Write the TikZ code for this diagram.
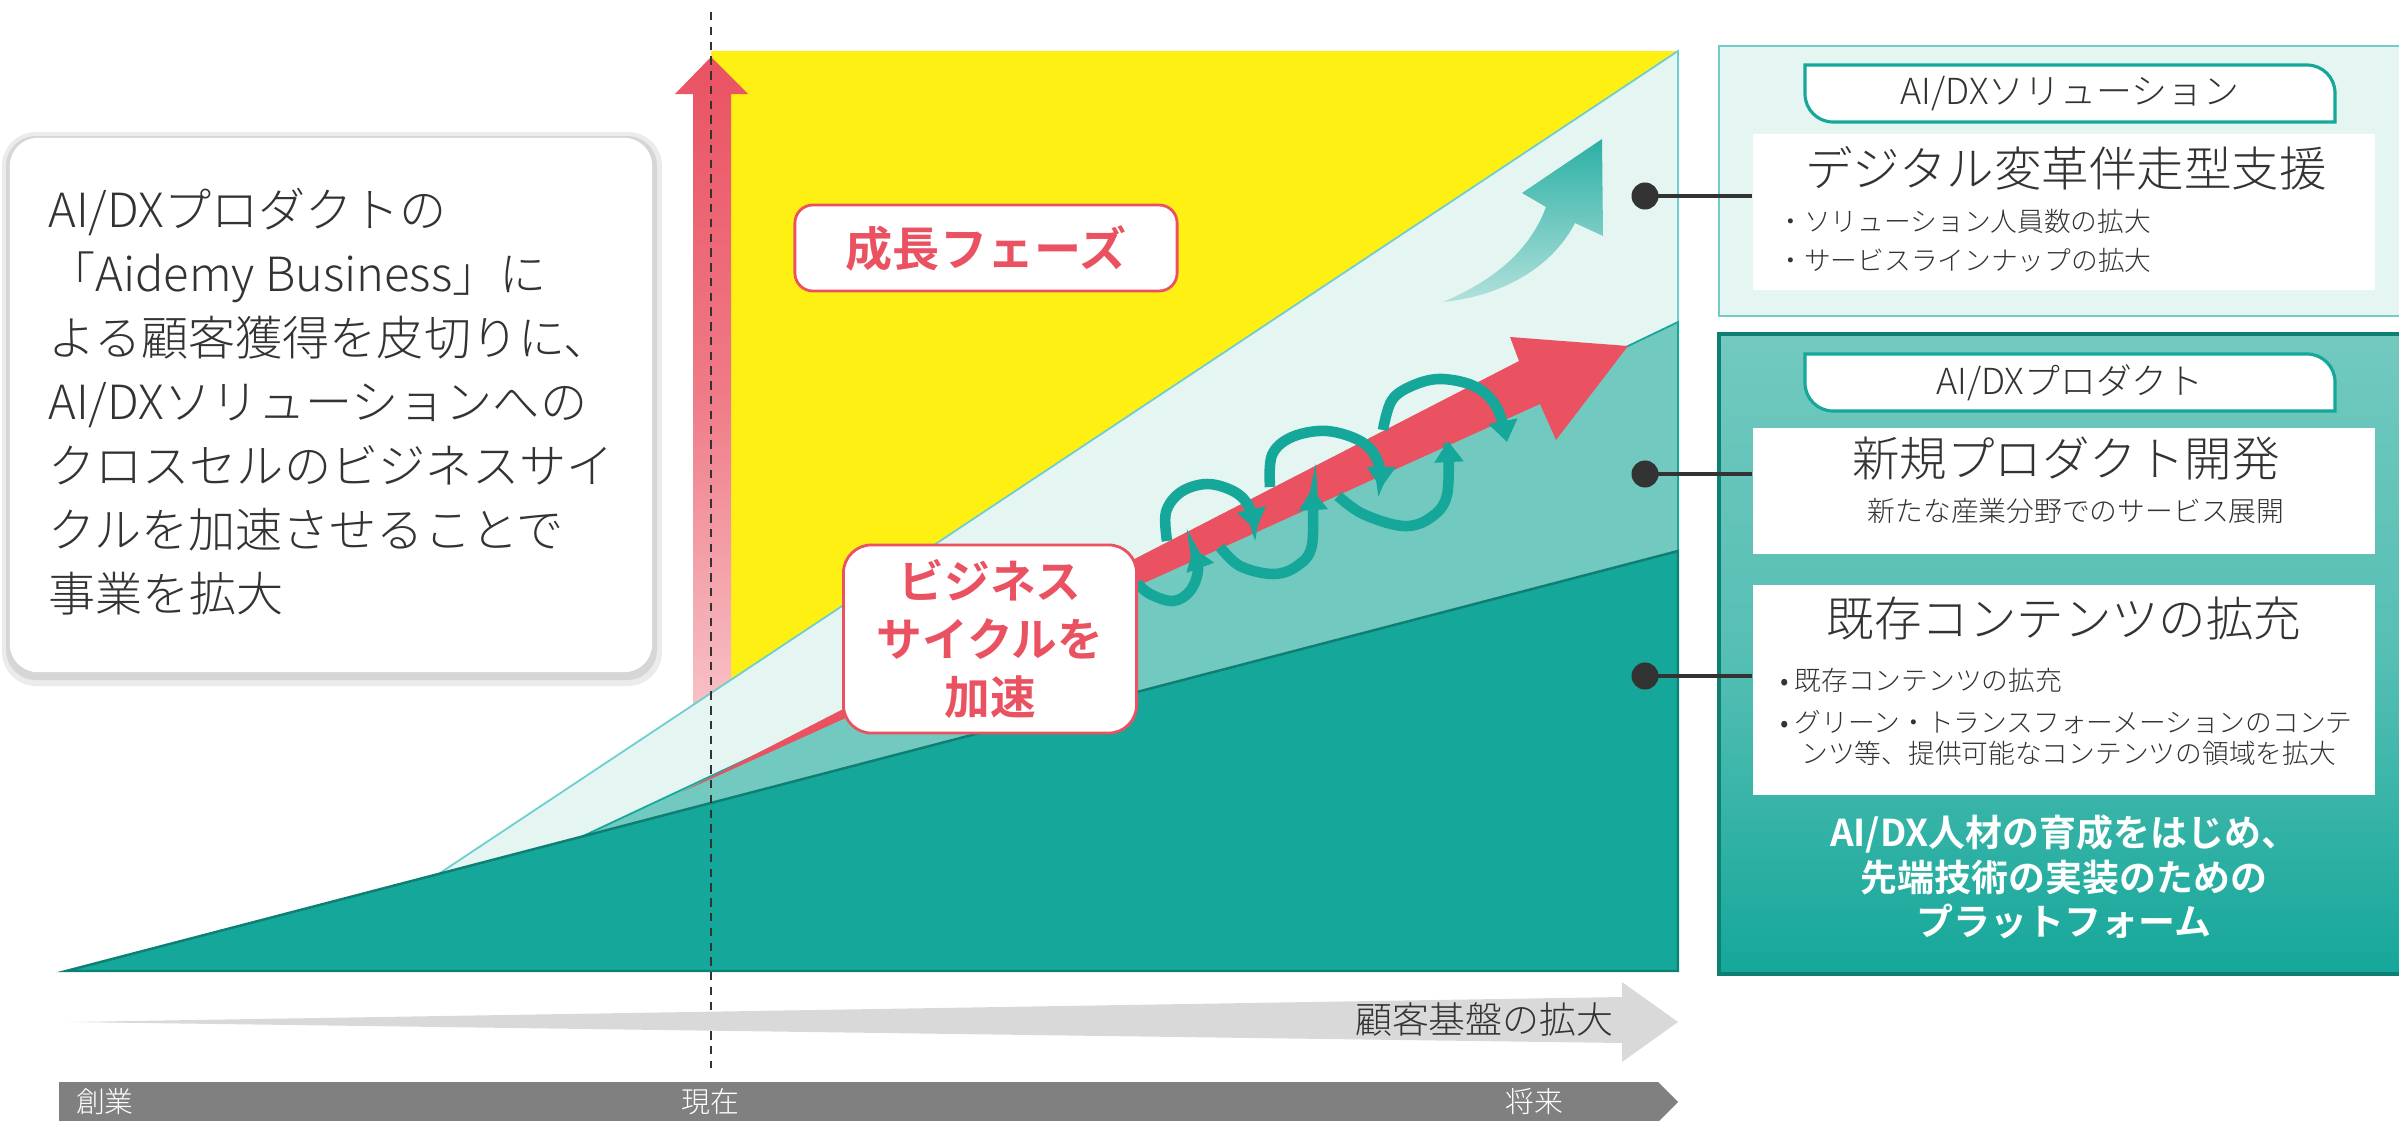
\documentclass[tikz,border=0pt]{standalone}
\usepackage{fontspec}
\IfFontExistsTF{Noto Sans CJK JP Light}
  {\setmainfont{Noto Sans CJK JP Light}[BoldFont={Noto Sans CJK JP Bold}]}
  {\setmainfont{Noto Sans CJK JP}}
\usepackage{xcolor}
\usetikzlibrary{arrows.meta,positioning,calc,shapes.geometric}
\definecolor{Ink}{HTML}{333333}
\definecolor{Rose}{HTML}{EA5262}
\definecolor{Blush}{HTML}{F8C4C9}
\definecolor{Lemon}{HTML}{FFF014}
\definecolor{Mist}{HTML}{E5F5F2}
\definecolor{Aqua}{HTML}{72C9BF}
\definecolor{Teal}{HTML}{15A79A}
\definecolor{DeepTeal}{HTML}{0E7F73}
\definecolor{Sky}{HTML}{6ECDD0}
\definecolor{Fog}{HTML}{D9D9D9}
\definecolor{Slate}{HTML}{808080}
\newcommand{\tabframe}[4]{
  \begin{scope}[shift={(#2,#3)}]
    \draw[fill=white, draw=Teal, line width=0.9pt] (0,0) -- (502,0) arc[start angle=-90, end angle=0, radius=28] -- (530,57) -- (28,57) arc[start angle=90, end angle=180, radius=28] -- cycle;
    \node[Ink, font=\fontsize{10.2}{12}\selectfont] (#1) at (265,29) {#4};
  \end{scope}
}

\begin{document}
\begin{tikzpicture}[x=0.01cm, y=-0.01cm,
    pin/.style={circle, fill=Ink, inner sep=0pt, minimum size=0.27cm},
    wire/.style={Ink, line width=1.1pt},
    sheet/.style={fill=white, inner sep=0pt, minimum width=6.22cm},
    badge/.style={draw=Rose, line width=0.8pt, fill=white, text=Rose, font=\bfseries\fontsize{13.4}{16.5}\selectfont, align=center, inner sep=0pt},
    coil/.style={Teal, line width=3pt, -{Triangle[width=8pt,length=6pt]}}]
  \useasboundingbox (0,0) rectangle (2399,1121);
  \clip (0,0) rectangle (2399,1121);

  % growth phase
  \fill[Lemon] (711,51) -- (1678,51) -- (711,693) -- cycle;
  \shade[top color=Rose, bottom color=Blush, middle color=Rose!65!Blush] (693,720) -- (693,94) -- (675,94) -- (711,57) -- (748,94) -- (731,94) -- (731,720) -- cycle;

  % layers of the chart
  \fill[Mist] (440,873) -- (1678,51) -- (1678,971) -- (440,971) -- cycle;
  \draw[Sky, line width=0.5pt] (440,873) -- (1678,51) -- (1678,322);
  \fill[Aqua] (581,837) -- (1628,346) -- (1678,322) -- (1678,971) -- (581,971) -- cycle;
  \draw[Teal, line width=0.5pt] (581,837) -- (1628,346) -- (1678,322) -- (1678,551);
  \fill[Teal] (66,971) -- (1678,551) -- (1678,971) -- cycle;
  \draw[DeepTeal, line width=0.7pt] (66,971) -- (1678,551) -- (1678,971) -- cycle;

  % rising arrow
  \shade[top color=Teal!90, middle color=Aqua!85, bottom color=Mist!55!Aqua] (1443,302) .. controls (1495,280) and (1530,250) .. (1546,207) -- (1522,193) -- (1602,139) -- (1603,236) -- (1575,223) .. controls (1555,262) and (1510,295) .. (1443,302) -- cycle;

  % business cycle
  \fill[Rose] (682,792) -- (1519,361) -- (1510,337) -- (1628,346) -- (1556,440) -- (1540,404) -- cycle;
  \draw[coil] plot[smooth, tension=0.6] coordinates {(1137,583) (1150,594) (1173,601) (1190,591) (1198,570) (1193,548)};
  \draw[coil] plot[smooth, tension=0.6] coordinates {(1167,541) (1166,512) (1181,492) (1207,484) (1233,491) (1248,505) (1256,530)};
  \draw[coil] plot[smooth, tension=0.6] coordinates {(1220,547) (1240,566) (1273,574) (1297,566) (1312,545) (1312,489)};
  \draw[coil] plot[smooth, tension=0.6] coordinates {(1270,487) (1272,455) (1292,437) (1327,431) (1362,442) (1378,462) (1381,488)};
  \draw[coil] plot[smooth, tension=0.6] coordinates {(1338,496) (1363,514) (1403,526) (1430,518) (1447,495) (1448,441)};
  \draw[coil] plot[smooth, tension=0.6] coordinates {(1383,430) (1392,400) (1414,385) (1442,379) (1476,387) (1497,408) (1507,442)};

  \node[badge, rounded corners=0.18cm, minimum width=3.82cm, minimum height=0.86cm] (phase) at (986,248) {成長フェーズ};
  \node[badge, rounded corners=0.28cm, minimum width=2.93cm, minimum height=1.88cm, font=\bfseries\fontsize{13}{16.5}\selectfont] (accel) at (990,639) {ビジネス\\サイクルを\\加速};

  % message box
  \fill[black!8, rounded corners=0.34cm] (2,132) rectangle (662,686);
  \fill[black!16, rounded corners=0.3cm] (6,136) rectangle (657,680);
  \node[fill=white, rounded corners=0.28cm, minimum width=6.42cm, minimum height=5.34cm, inner sep=0pt] (story) at (331,405) {};
  \node[Ink, anchor=west, align=left, font=\fontsize{13.4}{18.2}\selectfont] (storytext) at (36,402) {AI/DXプロダクトの\\「Aidemy Business」に\\よる顧客獲得を皮切りに、\\AI/DXソリューションへの\\クロスセルのビジネスサイ\\クルを加速させることで\\事業を拡大};

  % now
  \draw[Ink, line width=0.6pt, dash pattern=on 2.4pt off 1.8pt] (711,12) -- (711,1068);

  % customer base
  \fill[Fog] (70,1022) -- (1622,997) -- (1622,982) -- (1678,1022) -- (1622,1062) -- (1622,1043) -- cycle;
  \node[Ink, anchor=east, font=\fontsize{10.5}{12}\selectfont] (base) at (1626,1019) {顧客基盤の拡大};

  % timeline
  \fill[Slate] (59,1082) -- (1658,1082) -- (1678,1102) -- (1658,1122) -- (59,1122) -- cycle;
  \node[white, font=\fontsize{8.2}{10}\selectfont] (start) at (105,1102) {創業};
  \node[white, font=\fontsize{8.2}{10}\selectfont] (now) at (710,1102) {現在};
  \node[white, font=\fontsize{8.2}{10}\selectfont] (future) at (1534,1102) {将来};

  % right panels
  \draw[fill=Mist, draw=Sky!60!Aqua, line width=0.6pt] (1719,46) rectangle (2420,316);
  \draw[top color=Aqua, bottom color=Teal, middle color=Aqua!70!Teal, draw=DeepTeal, line width=0.9pt] (1719,334) rectangle (2420,974);
  \tabframe{soltab}{1805}{65}{AI/DXソリューション}
  \tabframe{prodtab}{1805}{354}{AI/DXプロダクト}

  \node[sheet, minimum height=1.56cm] (sol) at (2064,212) {};
  \node[sheet, minimum height=1.26cm] (newprod) at (2064,491) {};
  \node[sheet, minimum height=2.09cm] (content) at (2064,690) {};

  \node[Ink, font=\fontsize{13.5}{15}\selectfont] (soltitle) at (2066,168) {デジタル変革伴走型支援};
  \node[Ink, anchor=west, font=\fontsize{7.6}{9}\selectfont] (solitem1) at (1765,221) {・ソリューション人員数の拡大};
  \node[Ink, anchor=west, font=\fontsize{7.6}{9}\selectfont] (solitem2) at (1765,260) {・サービスラインナップの拡大};
  \node[Ink, font=\fontsize{13.5}{15}\selectfont] (prodtitle) at (2066,459) {新規プロダクト開発};
  \node[Ink, font=\fontsize{7.9}{9}\selectfont] (proditem) at (2076,511) {新たな産業分野でのサービス展開};
  \node[Ink, font=\fontsize{13.5}{15}\selectfont] (conttitle) at (2064,618) {既存コンテンツの拡充};
  \node[Ink, anchor=west, font=\fontsize{7.6}{9}\selectfont] (contitem1) at (1768,680) {• 既存コンテンツの拡充};
  \node[Ink, anchor=west, font=\fontsize{7.6}{9}\selectfont] (contitem2) at (1768,722) {• グリーン・トランスフォーメーションのコンテ};
  \node[Ink, anchor=west, font=\fontsize{7.6}{9}\selectfont] (contitem3) at (1789,753) {ンツ等、提供可能なコンテンツの領域を拡大};
  \node[white, align=center, font=\bfseries\fontsize{10.5}{12.6}\selectfont] (platform) at (2064,877) {AI/DX人材の育成をはじめ、\\先端技術の実装のための\\プラットフォーム};

  % links
  \node[pin] (p1) at (1645,196) {};
  \node[pin] (p2) at (1645,474) {};
  \node[pin] (p3) at (1645,676) {};
  \draw[wire] (p1.center) -- (p1 -| sol.west);
  \draw[wire] (p2.center) -- (p2 -| newprod.west);
  \draw[wire] (p3.center) -- (p3 -| content.west);
\end{tikzpicture}
\end{document}
